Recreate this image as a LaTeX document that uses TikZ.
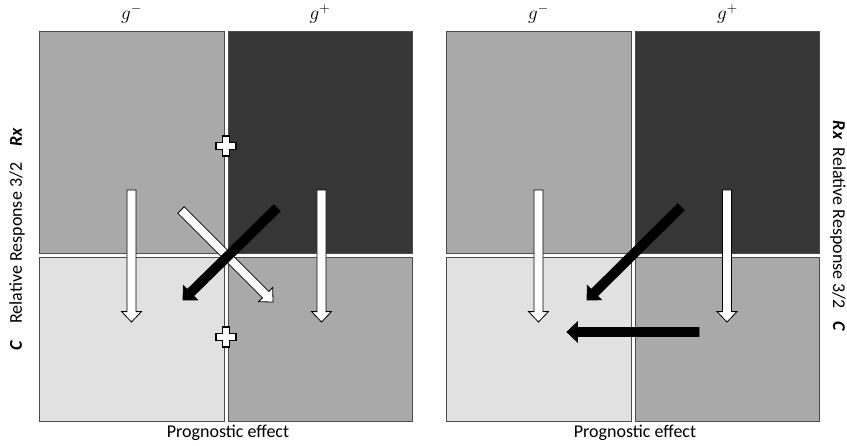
\documentclass[tikz,border=0pt]{standalone}
\usepackage{fontspec}
\setmainfont{Carlito}
\usetikzlibrary{calc}

\definecolor{cellmid}{HTML}{A9A9A9}
\definecolor{celldark}{HTML}{363636}
\definecolor{celllight}{HTML}{E1E1E1}

\tikzset{
	cell/.style={draw=black!70, line width=0.75pt},
	hollowarrow/.style={fill=white, draw=black, line width=0.6pt, line join=miter},
	solidarrow/.style={fill=black, draw=black, line width=0.6pt, line join=miter},
	plusmark/.style={fill=white, draw=black, line width=0.9pt},
	axislabel/.style={font=\fontsize{13.5}{16}\selectfont, inner sep=0pt},
	grouplabel/.style={font=\fontsize{14.5}{17}\selectfont, inner sep=0pt}
}

% block arrow from #2 to #3
\newcommand{\blockarrow}[3]{%
	\coordinate (ba-h) at ($(#3)!7.8pt!(#2)$);
	\path[#1] ($(#2)!3.4pt!90:(#3)$) -- ($(ba-h)!3.4pt!90:(#3)$)
		-- ($(ba-h)!7.5pt!90:(#3)$) -- (#3) -- ($(ba-h)!7.5pt!-90:(#3)$)
		-- ($(ba-h)!3.4pt!-90:(#3)$) -- ($(#2)!3.4pt!-90:(#3)$) -- cycle;}

% plus sign centred on #1
\newcommand{\plussign}[1]{%
	\draw[plusmark, shift={(#1)}] (-3.3,-10) -- (3.3,-10) -- (3.3,-3.3) -- (10,-3.3)
		-- (10,3.3) -- (3.3,3.3) -- (3.3,10) -- (-3.3,10) -- (-3.3,3.3)
		-- (-10,3.3) -- (-10,-3.3) -- (-3.3,-3.3) -- cycle;}

\begin{document}
\begin{tikzpicture}[x=0.75pt, y=-0.75pt]
	\useasboundingbox (0,0) rectangle (847,446);

	% cells of both panels
	\foreach \ox in {0,407} {
		\filldraw[cell, fill=cellmid]   (39+\ox,31)  rectangle (224+\ox,253);
		\filldraw[cell, fill=celldark]  (228+\ox,31) rectangle (412+\ox,253);
		\filldraw[cell, fill=celllight] (39+\ox,257) rectangle (224+\ox,421);
		\filldraw[cell, fill=cellmid]   (228+\ox,257) rectangle (412+\ox,421);
	}

	% labels
	\node[grouplabel] (lgm) at (131.5,14) {$g^-$};
	\node[grouplabel] (lgp) at (320,14) {$g^+$};
	\node[grouplabel] (rgm) at (538.5,14) {$g^-$};
	\node[grouplabel] (rgp) at (727.5,14) {$g^+$};
	\node[axislabel, rotate=90] (lresp) at (17,239)
		{\textbf{\textit{C}}\ \ \ \ Relative Response 3/2\ \ \ \ \textbf{\textit{Rx}}};
	\node[axislabel, rotate=-90] (rresp) at (838,226)
		{\textbf{\textit{Rx}}\ \ Relative Response 3/2\ \ \ \textbf{\textit{C}}};
	\node[axislabel] (lprog) at (228,433) {Prognostic effect};
	\node[axislabel] (rprog) at (635,433) {Prognostic effect};

	% left panel
	\coordinate (la1) at (131.5,190); \coordinate (lb1) at (131.5,322);
	\coordinate (la2) at (321.5,190); \coordinate (lb2) at (321.5,322);
	\coordinate (la3) at (181,210);   \coordinate (lb3) at (273,302);
	\coordinate (la4) at (277,208);   \coordinate (lb4) at (183,300);
	\coordinate (lplus1) at (226,146);
	\coordinate (lplus2) at (226,337);
	\blockarrow{hollowarrow}{la1}{lb1}
	\blockarrow{hollowarrow}{la2}{lb2}
	\blockarrow{hollowarrow}{la3}{lb3}
	\blockarrow{solidarrow}{la4}{lb4}
	\plussign{lplus1}
	\plussign{lplus2}

	% right panel
	\coordinate (ra1) at (538.5,190); \coordinate (rb1) at (538.5,322);
	\coordinate (ra2) at (727,190);   \coordinate (rb2) at (727,322);
	\coordinate (ra3) at (681,207);   \coordinate (rb3) at (587,300);
	\coordinate (ra4) at (699,332);   \coordinate (rb4) at (567,332);
	\blockarrow{hollowarrow}{ra1}{rb1}
	\blockarrow{hollowarrow}{ra2}{rb2}
	\blockarrow{solidarrow}{ra3}{rb3}
	\blockarrow{solidarrow}{ra4}{rb4}
\end{tikzpicture}
\end{document}
